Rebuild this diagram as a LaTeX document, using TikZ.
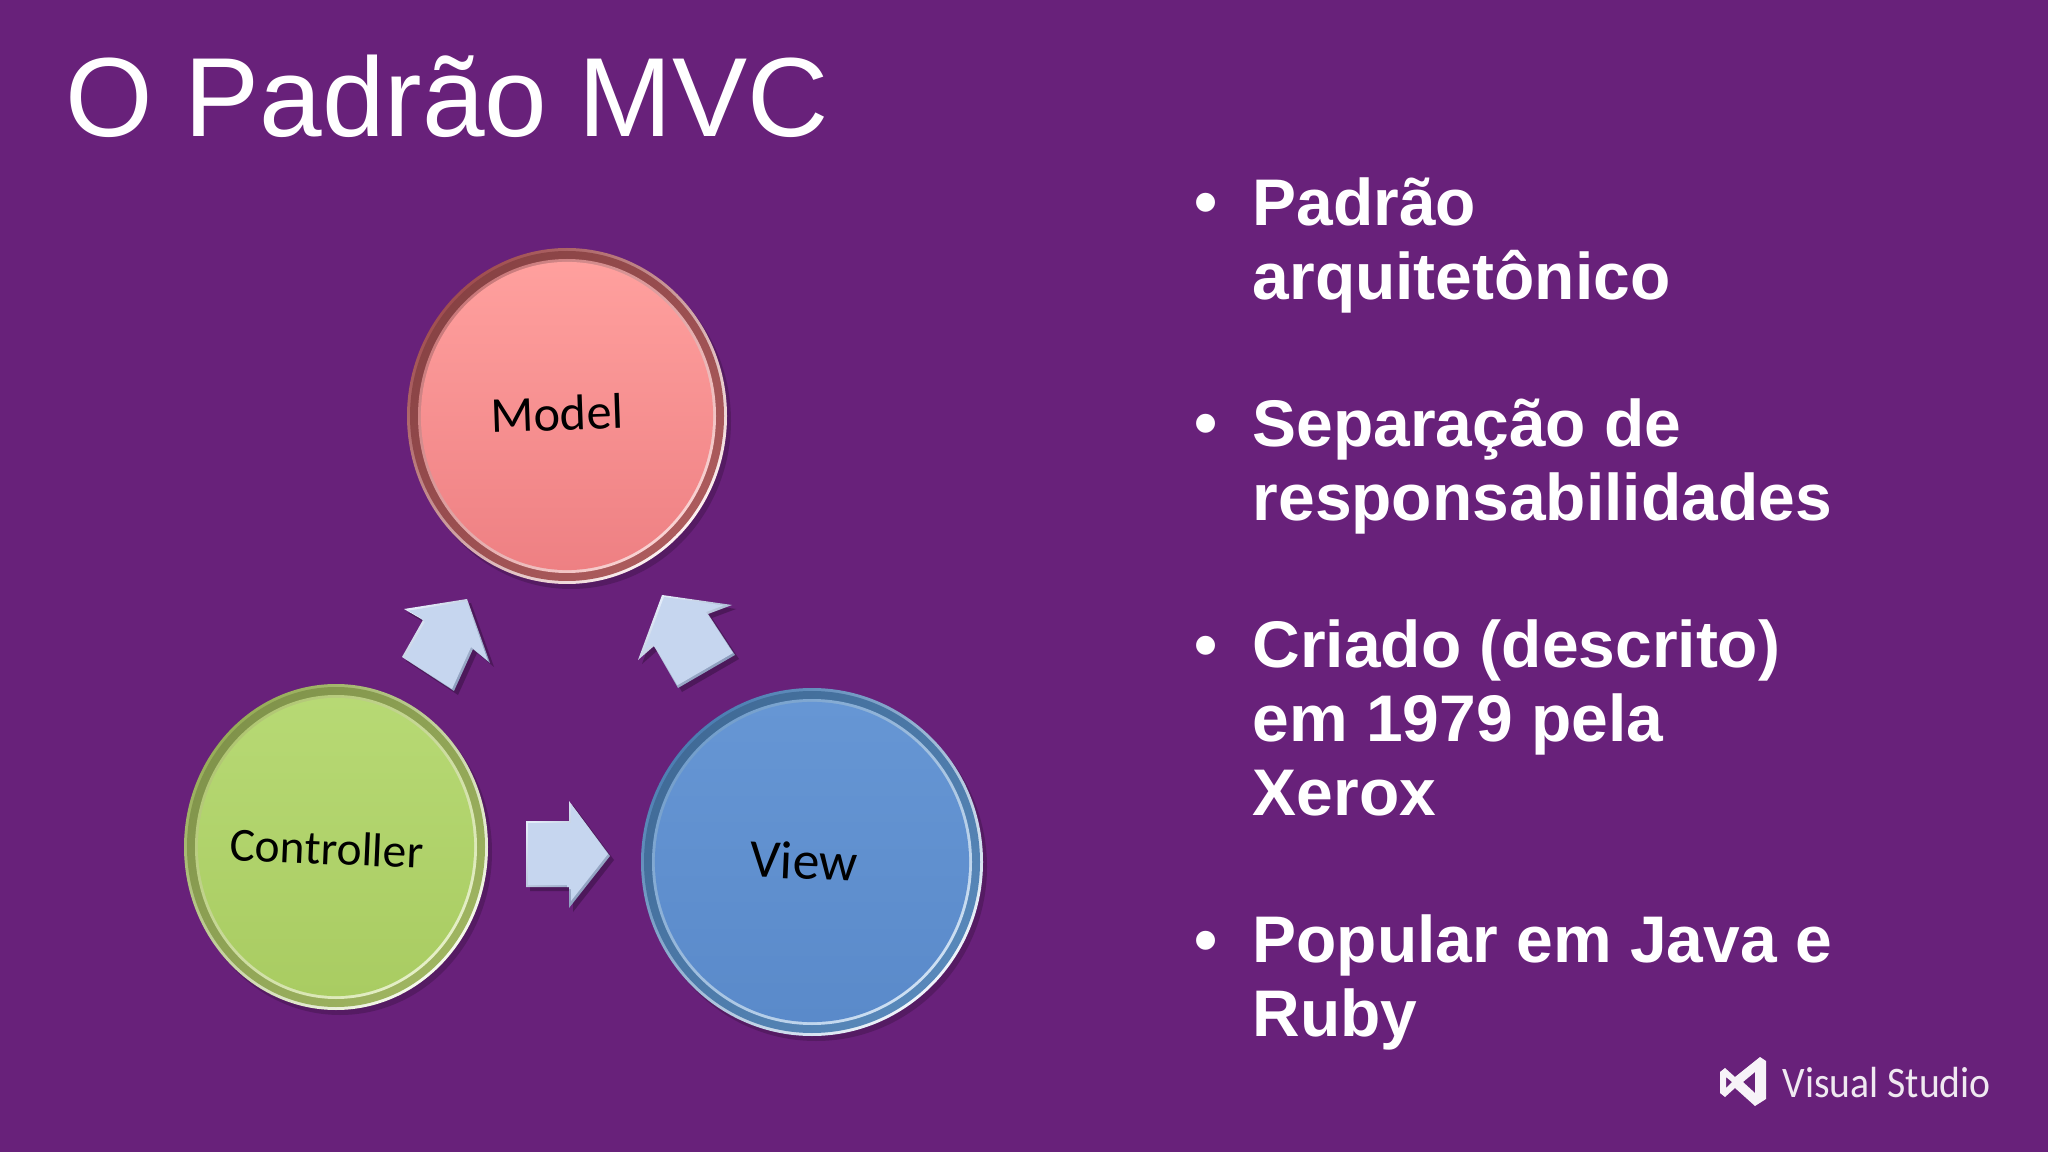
\documentclass[tikz,border=0pt]{standalone}
\usepackage{fontspec}
\setmainfont{Liberation Sans}
\newfontfamily\labelfont{Carlito}
\usetikzlibrary{shapes.geometric}

\definecolor{slidebg}{HTML}{68217A}
\definecolor{arrowface}{HTML}{C6D6EF}
\definecolor{arrowedge}{HTML}{8496B8}
\definecolor{arrowlight}{HTML}{E3ECF9}
\definecolor{modelrim}{HTML}{A04E50}
\definecolor{modellight}{HTML}{F3A5A5}
\definecolor{modeltop}{HTML}{FFA09E}
\definecolor{modelbottom}{HTML}{EE8083}
\definecolor{controllerrim}{HTML}{97AD58}
\definecolor{controllerlight}{HTML}{CBE08F}
\definecolor{controllertop}{HTML}{B7D974}
\definecolor{controllerbottom}{HTML}{A9CC62}
\definecolor{viewrim}{HTML}{4C7EB2}
\definecolor{viewlight}{HTML}{9CC0E6}
\definecolor{viewtop}{HTML}{6696D4}
\definecolor{viewbottom}{HTML}{5A8ACA}

\tikzset{
  title/.style={anchor=base west,text=white,inner sep=0pt,font=\fontsize{32}{36}\selectfont},
  bullet/.style={anchor=base,text=white,inner sep=0pt,font=\fontsize{18.75}{21}\selectfont\bfseries},
  item/.style={anchor=north west,text=white,inner sep=0pt,align=left,font=\fontsize{18.75}{21}\selectfont\bfseries},
  disc/.style={ellipse,inner sep=0pt},
  disclabel/.style={text=black,inner sep=0pt},
}

% rim of a disc: centre, x radius, y radius, dark, light
\newcommand{\discrim}[5]{
  \fill[black,opacity=0.18] ([shift={(4,5)}]#1) ellipse[x radius=#2,y radius=#3];
  \shade[top color=#4,bottom color=white!85!#5,shading angle=45] (#1) ellipse[x radius=#2,y radius=#3];
  \shade[top color=#4!85!black,bottom color=#4!85!#5,shading angle=45] (#1) ellipse[x radius=#2-3,y radius=#3-3];
  \shade[top color=#4!50!#5,bottom color=white!50!#5,shading angle=45] (#1) ellipse[x radius=#2-11,y radius=#3-11];
}

% block arrow, from its outline
\newcommand{\blockarrow}[1]{
  \fill[black,opacity=0.25,shift={(4,4)}] #1;
  \shade[top color=arrowlight,bottom color=arrowedge,shading angle=45] #1;
  \begin{scope}
    \clip[shift={(2,2)}] #1;
    \clip[shift={(-2,-2)}] #1;
    \fill[arrowface] #1;
  \end{scope}
}

\begin{document}
\begin{tikzpicture}[x=0.01cm,y=-0.01cm]

\useasboundingbox (0,0) rectangle (2048,1152);
\fill[slidebg] (0,0) rectangle (2048,1152);

\node (heading) at (65,137) [title] {O Padrão MVC};

\discrim{567,416}{160}{168}{modelrim}{modellight}
\node (model) at (567,416) [disc,minimum width=2.92cm,minimum height=3.08cm,top color=modeltop,bottom color=modelbottom] {};
\node (modeltext) at (557,413) [disclabel,rotate=2,font=\labelfont\fontsize{14.3}{16}\selectfont] {Model};

\discrim{336,847}{152}{163}{controllerrim}{controllerlight}
\node (controller) at (336,847) [disc,minimum width=2.76cm,minimum height=2.98cm,top color=controllertop,bottom color=controllerbottom] {};
\node (controllertext) at (327,848) [disclabel,rotate=-2.5,font=\labelfont\fontsize{13.5}{16}\selectfont] {Controller};

\discrim{812,862}{171}{174}{viewrim}{viewlight}
\node (view) at (812,862) [disc,minimum width=3.14cm,minimum height=3.2cm,top color=viewtop,bottom color=viewbottom] {};
\node (viewtext) at (804,861) [disclabel,rotate=-2.5,font=\labelfont\fontsize{15.3}{18}\selectfont] {View};

\blockarrow{(467,599)--(404,609)--(423,620)--(402,657)--(454,691)--(473,649)--(490,663)--cycle}
\blockarrow{(662,595)--(638,660)--(654,646)--(678,688)--(735,655)--(708,614)--(732,605)--cycle}
\blockarrow{(610,856)--(569,801)--(569,821)--(526,821)--(526,887)--(569,887)--(569,908)--cycle}

\node (dotone) at (1206,225) [bullet] {•};
\node (itemone) at (1252,177) [item] {Padrão\\arquitetônico};

\node (dottwo) at (1206,446) [bullet] {•};
\node (itemtwo) at (1252,398) [item] {Separação de\\responsabilidades};

\node (dotthree) at (1206,667) [bullet] {•};
\node (itemthree) at (1252,619) [item] {Criado (descrito)\\em 1979 pela\\Xerox};

\node (dotfour) at (1206,962) [bullet] {•};
\node (itemfour) at (1252,914) [item] {Popular em Java e\\Ruby};

\fill[white,opacity=0.95,even odd rule] (1760,1057)--(1766,1061)--(1766,1099)--(1755,1106)--(1735,1088)--(1725,1097)--(1720,1093)--(1720,1072)--(1725,1068)--(1735,1077)--cycle
  (1726,1077)--(1732,1082)--(1726,1088)--cycle
  (1755,1072)--(1755,1093)--(1743,1082)--cycle;
\node (logotext) at (1782,1097) [anchor=base west,text=white,opacity=0.9,inner sep=0pt,xscale=0.91,font=\labelfont\fontsize{12.4}{14}\selectfont] {Visual Studio};

\end{tikzpicture}
\end{document}
